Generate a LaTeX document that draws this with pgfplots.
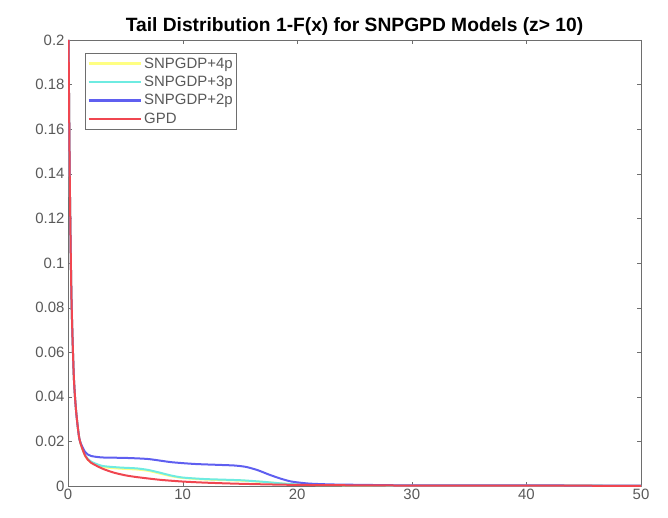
\documentclass[border=0pt]{standalone}
\usepackage{pgfplots}
\pgfplotsset{compat=1.18}
\usepackage{fontspec}
\setmainfont{Liberation Sans}

\definecolor{cyel}{RGB}{255,255,130}
\definecolor{ccyan}{RGB}{110,235,225}
\definecolor{cblue}{RGB}{95,95,240}
\definecolor{cred}{RGB}{240,70,80}
\definecolor{axgray}{RGB}{110,110,110}

\begin{document}
\begin{tikzpicture}
\begin{axis}[
    scale only axis,
    width=573bp, height=446bp,
    xmin=0, xmax=50,
    ymin=0, ymax=0.2,
    xtick={0,10,20,30,40,50},
    ytick={0,0.02,0.04,0.06,0.08,0.1,0.12,0.14,0.16,0.18,0.2},
    yticklabel style={/pgf/number format/fixed, /pgf/number format/precision=2},
    scaled y ticks=false,
    /pgf/number format/assume math mode=true,
    tick align=inside,
    major tick length=4bp,
    axis line style={axgray},
    tick style={axgray},
    ticklabel style={font=\fontsize{15}{17}\selectfont, text=black!65},
    title={\bfseries Tail Distribution 1-F(x) for SNPGPD Models (z> 10)},
    title style={font=\fontsize{19.3}{21}\selectfont, yshift=-4.5bp},
    legend style={at={(0.03,0.97)}, anchor=north west, draw=axgray,
        font=\fontsize{15}{16.5}\selectfont, text=black!65, row sep=2.5bp,
        inner sep=2bp},
    legend cell align=left,
    legend image code/.code={\draw[#1, line width=2.4bp] (0cm,0cm) -- (1.85cm,0cm);},
    every axis plot/.append style={line width=2bp, smooth, tension=0.4},
]
% SNPGDP+4p
\addplot[cyel] coordinates {
(0.05,0.2)(0.15,0.14)(0.3,0.085)(0.5,0.05)(0.7,0.034)(1,0.021)(1.5,0.0135)(2,0.0105)(3,0.0085)(4.5,0.0078)(6,0.0074)(7,0.0068)(8,0.0056)(9,0.0044)(10,0.0036)(12,0.0029)(15,0.0024)(17,0.0018)(19,0.001)(21,0.0005)(25,0.0003)(30,0.0002)(50,0.0001)
};
\addlegendentry{SNPGDP+4p}
% SNPGDP+3p
\addplot[ccyan] coordinates {
(0.05,0.2)(0.15,0.14)(0.3,0.085)(0.5,0.05)(0.7,0.034)(1,0.021)(1.5,0.0138)(2,0.011)(3,0.009)(4.5,0.0083)(6,0.0079)(7,0.0072)(8,0.006)(9,0.0047)(10,0.0038)(12,0.0031)(15,0.0026)(17,0.0019)(19,0.001)(21,0.0005)(25,0.0003)(30,0.0002)(50,0.0001)
};
\addlegendentry{SNPGDP+3p}
% SNPGDP+2p
\addplot[cblue] coordinates {
(0.05,0.2)(0.15,0.14)(0.3,0.085)(0.5,0.05)(0.7,0.034)(1,0.021)(1.5,0.0152)(2,0.0135)(3,0.0128)(5,0.0126)(7,0.0121)(9,0.0107)(11,0.0099)(13,0.0095)(14.5,0.0092)(15.5,0.0086)(16.5,0.0072)(17.5,0.0052)(18.5,0.0034)(19.5,0.002)(21,0.0011)(23,0.0007)(26,0.0005)(30,0.0003)(50,0.0002)
};
\addlegendentry{SNPGDP+2p}
% GPD
\addplot[cred] coordinates {
(0.05,0.2)(0.15,0.14)(0.3,0.085)(0.5,0.05)(0.7,0.034)(1,0.021)(1.5,0.0135)(2,0.0105)(3,0.0078)(4,0.006)(5,0.0048)(6,0.004)(8,0.0028)(10,0.002)(12,0.0015)(15,0.001)(20,0.0005)(30,0.0002)(50,0.0001)
};
\addlegendentry{GPD}
\end{axis}
\path (current axis.south west) ++(-68bp,-31bp);
\path (current axis.north east) ++(27bp,40bp);
\end{tikzpicture}
\end{document}
